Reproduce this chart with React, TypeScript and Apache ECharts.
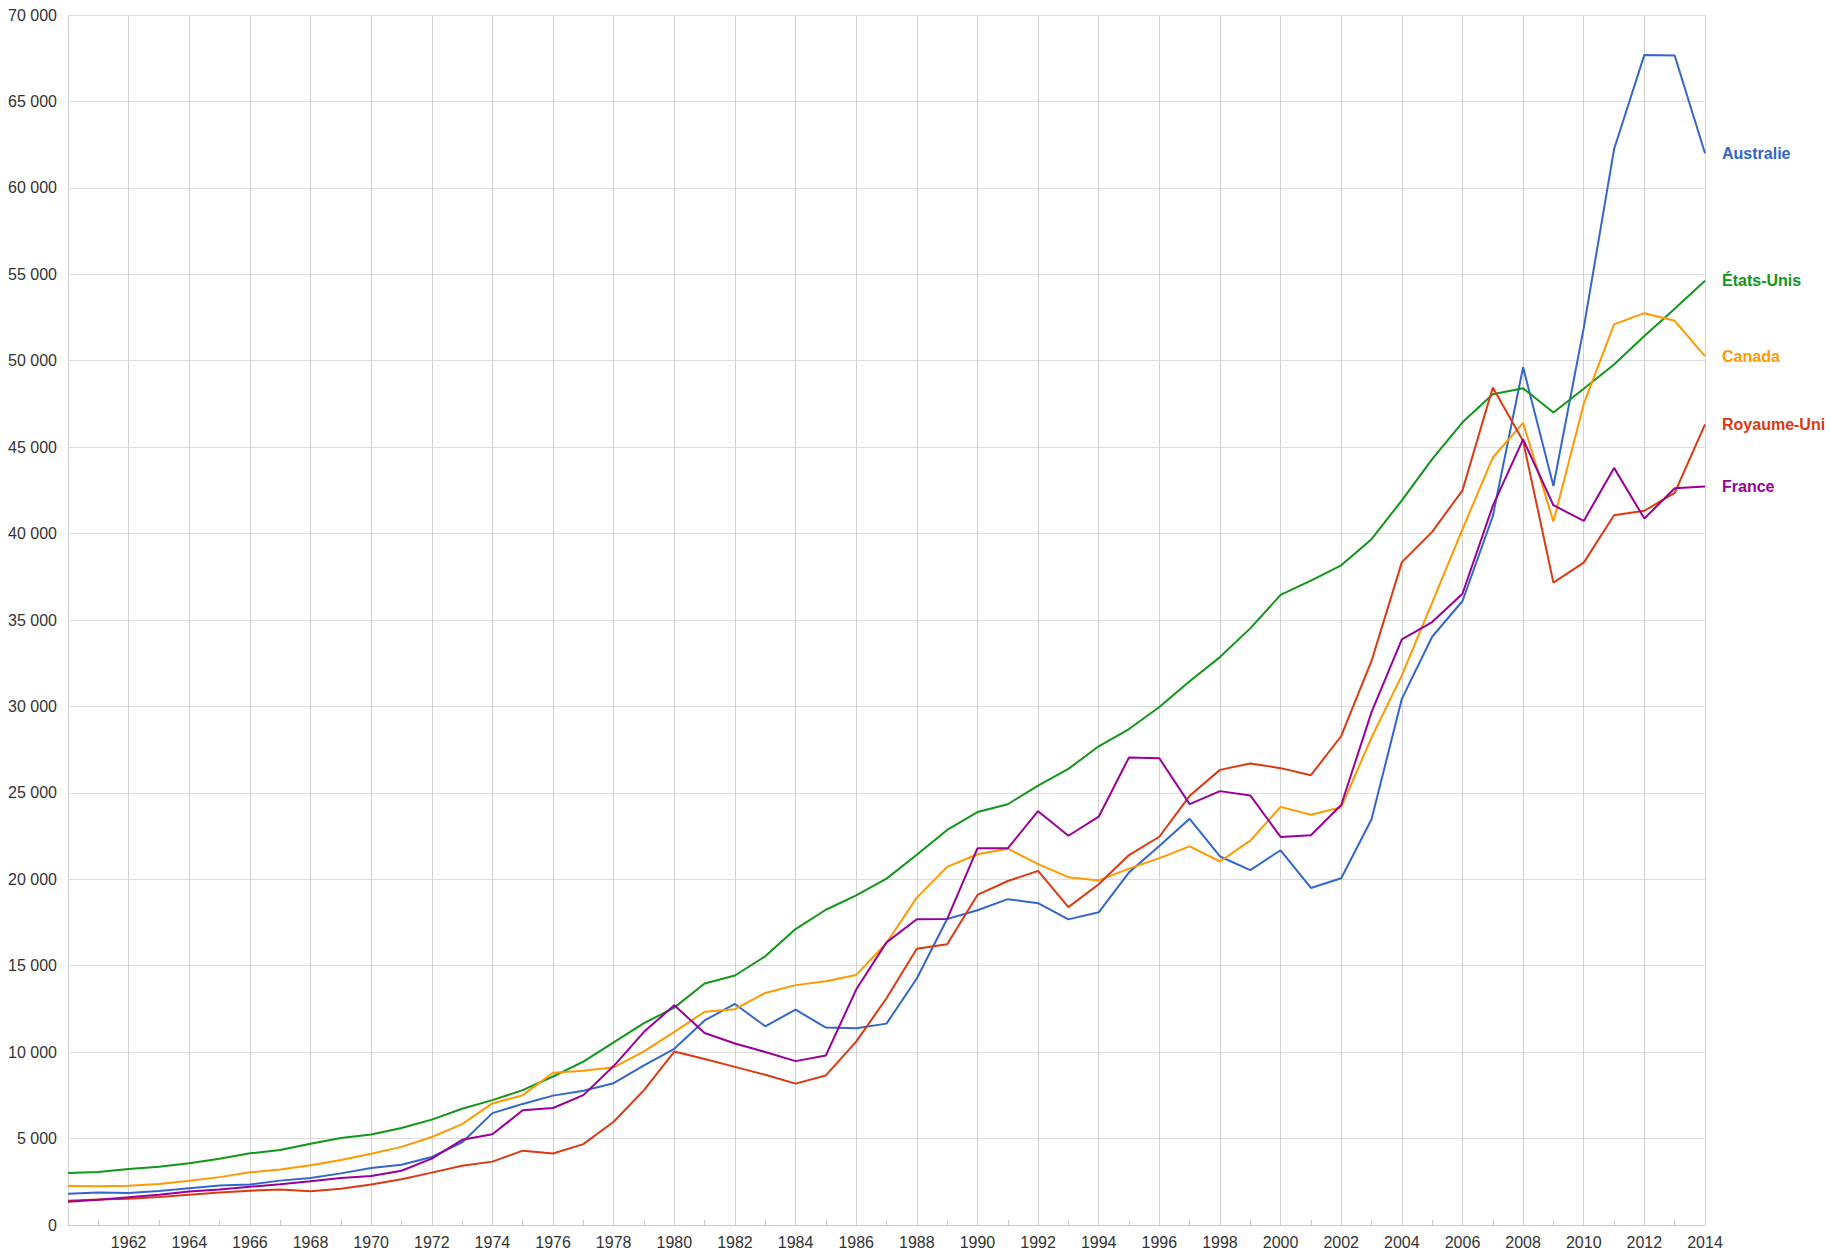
import React, { useEffect, useRef } from "react";
import * as echarts from "echarts";

const YEARS: number[] = Array.from({ length: 55 }, (_, i) => 1960 + i);

const AUSTRALIA = [
  1807, 1875, 1851, 1967, 2131, 2279, 2341, 2567, 2717, 2986,
  3301, 3490, 3935, 4777, 6473, 7005, 7484, 7768, 8205, 9231,
  10194, 11834, 12789, 11496, 12459, 11419, 11380, 11650, 14257, 17700,
  18211, 18850, 18620, 17680, 18090, 20400, 21920, 23500, 21320, 20534,
  21679, 19500, 20060, 23470, 30440, 34030, 36100, 41000, 49620, 42750,
  51900, 62230, 67690, 67660, 62000,
];

const ETATS_UNIS = [
  3007, 3067, 3244, 3375, 3574, 3828, 4146, 4336, 4696, 5032,
  5234, 5609, 6094, 6726, 7226, 7801, 8592, 9453, 10565, 11674,
  12575, 13976, 14434, 15544, 17121, 18237, 19071, 20039, 21417, 22857,
  23889, 24342, 25419, 26387, 27695, 28691, 29968, 31459, 32854, 34515,
  36450, 37274, 38166, 39677, 41922, 44308, 46437, 48062, 48401, 47002,
  48374, 49782, 51433, 53000, 54629,
];

const CANADA = [
  2259, 2240, 2269, 2374, 2555, 2770, 3047, 3217, 3463, 3764,
  4122, 4520, 5090, 5839, 7033, 7511, 8809, 8919, 9124, 10044,
  11171, 12337, 12482, 13425, 13877, 14102, 14468, 16311, 18938, 20716,
  21448, 21768, 20880, 20121, 19935, 20614, 21227, 21901, 21029, 22239,
  24190, 23738, 24168, 28200, 31800, 36000, 40250, 44400, 46400, 40700,
  47500, 52100, 52750, 52310, 50270,
];

const ROYAUME_UNI = [
  1398, 1472, 1525, 1613, 1748, 1874, 1987, 2059, 1952, 2101,
  2348, 2650, 3030, 3426, 3666, 4300, 4138, 4681, 5977, 7805,
  10032, 9599, 9146, 8692, 8180, 8652, 10611, 13119, 15987, 16239,
  19095, 19901, 20487, 18389, 19709, 21400, 22460, 24830, 26330, 26700,
  26430, 26020, 28290, 32630, 38350, 40100, 42500, 48450, 45350, 37160,
  38320, 41060, 41320, 42350, 46320,
];

const FRANCE = [
  1343, 1454, 1600, 1755, 1937, 2057, 2212, 2356, 2535, 2714,
  2831, 3138, 3843, 4929, 5245, 6637, 6768, 7513, 9193, 11173,
  12713, 11106, 10496, 10010, 9480, 9810, 13620, 16350, 17690, 17700,
  21790, 21790, 23940, 22520, 23620, 27050, 27000, 24350, 25100, 24850,
  22450, 22550, 24300, 29670, 33880, 34880, 36520, 41600, 45450, 41640,
  40730, 43800, 40870, 42620, 42730,
];

const SERIES = [
  { name: "Australie", color: "#3366cc", values: AUSTRALIA },
  { name: "États-Unis", color: "#109618", values: ETATS_UNIS },
  { name: "Canada", color: "#ff9900", values: CANADA },
  { name: "Royaume-Uni", color: "#dc3912", values: ROYAUME_UNI },
  { name: "France", color: "#990099", values: FRANCE },
];

const FONT = '"Liberation Sans", Arial, sans-serif';

function fmtThousands(v: number): string {
  return String(v).replace(/\B(?=(\d{3})+(?!\d))/g, " ");
}

export default function App() {
  const ref = useRef<HTMLDivElement>(null);

  useEffect(() => {
    if (!ref.current) return;
    const chart = echarts.init(ref.current, undefined, { renderer: "svg" });
    chart.setOption({
      animation: false,
      backgroundColor: "#ffffff",
      textStyle: { fontFamily: FONT },
      grid: {
        left: 68,
        right: 126,
        top: 15,
        bottom: 30,
        containLabel: false,
        outerBoundsMode: "none",
      },
      xAxis: {
        type: "value",
        min: 1960,
        max: 2014,
        interval: 2,
        axisLine: { show: true, lineStyle: { color: "#cccccc", width: 1 } },
        axisTick: { show: false, inside: true },
        minorTick: {
          show: true,
          splitNumber: 2,
          length: 5,
          lineStyle: { color: "#cccccc", width: 1 },
        },
        minorSplitLine: { show: false },
        splitLine: { show: true, lineStyle: { color: "#d2d2d2", width: 1 } },
        axisLabel: {
          show: true,
          margin: 9,
          fontSize: 16,
          color: "#333333",
          fontFamily: FONT,
          formatter: (v: number) => (v === 1960 ? "" : String(v)),
        },
      },
      yAxis: {
        type: "value",
        min: 0,
        max: 70000,
        interval: 5000,
        axisLine: { show: false },
        axisTick: { show: false },
        splitLine: { show: true, lineStyle: { color: "#dddddd", width: 1 } },
        axisLabel: {
          margin: 11,
          fontSize: 16,
          color: "#333333",
          fontFamily: FONT,
          formatter: (v: number) => fmtThousands(v),
        },
      },
      series: SERIES.map((s) => ({
        name: s.name,
        type: "line",
        data: YEARS.map((y, i) => [y, s.values[i]]),
        symbol: "none",
        showSymbol: false,
        smooth: false,
        lineStyle: { color: s.color, width: 2 },
        itemStyle: { color: s.color },
        endLabel: {
          show: true,
          formatter: s.name,
          color: s.color,
          fontWeight: "bold",
          fontSize: 16,
          fontFamily: FONT,
          distance: 17,
        },
        emphasis: { disabled: true },
      })),
    });
    return () => chart.dispose();
  }, []);

  return (
    <div
      ref={ref}
      style={{ position: "absolute", left: 0, top: 0, width: 1831, height: 1255 }}
    />
  );
}
